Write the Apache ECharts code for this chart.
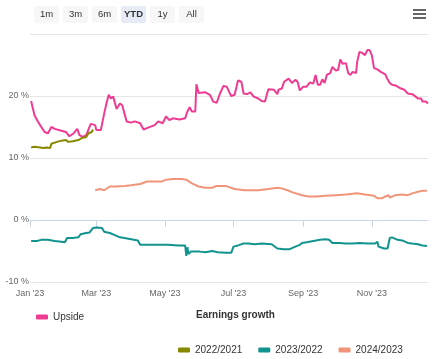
<!DOCTYPE html>
<html>
<head>
<meta charset="utf-8">
<script src="https://cdn.jsdelivr.net/npm/echarts@6/dist/echarts.min.js"></script>
<style>
html,body{margin:0;padding:0;background:#fff;}
#chart{width:436px;height:359px;}
</style>
</head>
<body>
<div id="chart"></div>
<script>
// ---- data ----
const upsideDates = ['2023-01-02','2023-01-05','2023-01-08','2023-01-10','2023-01-14','2023-01-17','2023-01-20','2023-01-23','2023-01-29','2023-02-02','2023-02-05','2023-02-09','2023-02-12','2023-02-14','2023-02-17','2023-02-20','2023-02-24','2023-02-28','2023-03-01','2023-03-05','2023-03-08','2023-03-10','2023-03-12','2023-03-14','2023-03-16','2023-03-19','2023-03-22','2023-03-24','2023-03-26','2023-03-28','2023-04-01','2023-04-04','2023-04-09','2023-04-12','2023-04-16','2023-04-22','2023-04-25','2023-04-29','2023-05-02','2023-05-05','2023-05-08','2023-05-14','2023-05-19','2023-05-21','2023-05-23','2023-05-25','2023-05-28','2023-05-29','2023-05-31','2023-06-06','2023-06-10','2023-06-13','2023-06-16','2023-06-19','2023-06-22','2023-06-25','2023-06-27','2023-06-29','2023-07-02','2023-07-05','2023-07-08','2023-07-10','2023-07-13','2023-07-16','2023-07-19','2023-07-23','2023-07-26','2023-07-29','2023-08-01','2023-08-06','2023-08-09','2023-08-10','2023-08-13','2023-08-15','2023-08-19','2023-08-22','2023-08-25','2023-08-27','2023-08-29','2023-09-01','2023-09-04','2023-09-07','2023-09-10','2023-09-12','2023-09-14','2023-09-16','2023-09-18','2023-09-20','2023-09-22','2023-09-25','2023-09-27','2023-09-28','2023-09-30','2023-10-02','2023-10-04','2023-10-06','2023-10-09','2023-10-11','2023-10-13','2023-10-15','2023-10-18','2023-10-19','2023-10-21','2023-10-23','2023-10-26','2023-10-28','2023-10-30','2023-11-01','2023-11-03','2023-11-06','2023-11-09','2023-11-11','2023-11-13','2023-11-15','2023-11-17','2023-11-19','2023-11-22','2023-11-27','2023-11-30','2023-12-03','2023-12-07','2023-12-10','2023-12-12','2023-12-15','2023-12-16','2023-12-19','2023-12-21'];
const upsideValues = [19.2,16.9,15.9,15.3,14.2,14.0,15.0,14.7,14.4,14.2,13.5,14.0,14.7,13.7,13.4,13.7,15.5,15.3,14.5,14.5,17.2,18.8,20.2,19.6,19.9,17.9,18.8,18.5,17.2,15.9,15.7,15.9,15.6,14.6,14.9,15.3,15.9,15.6,16.7,16.1,16.4,16.2,16.4,17.5,18.2,17.5,17.5,21.9,20.5,20.6,20.2,19.1,18.9,20.4,21.6,21.5,20.7,20.0,20.2,22.5,22.3,20.4,20.3,20.6,19.9,19.6,19.2,19.1,21.1,21.0,20.3,21.0,21.2,22.3,22.8,22.1,22.6,22.3,20.9,21.5,21.5,22.2,22.0,23.4,21.8,21.8,22.7,22.1,23.4,23.7,24.7,25.0,24.1,24.2,25.9,25.2,25.3,23.7,23.4,23.9,23.7,25.5,27.1,27.0,26.6,27.4,27.4,26.6,24.5,24.3,23.9,23.7,23.5,22.7,22.1,21.8,21.7,21.2,21.0,20.4,20.3,19.9,19.6,19.6,19.1,19.1,18.8];

const g2122Dates = ['2023-01-02','2023-01-05','2023-01-10','2023-01-13','2023-01-16','2023-01-19','2023-01-20','2023-01-25','2023-01-29','2023-02-02','2023-02-04','2023-02-08','2023-02-13','2023-02-16','2023-02-20','2023-02-22','2023-02-25','2023-02-26'];
const g2122Values = [11.7,11.8,11.7,11.6,11.7,11.6,12.3,12.6,12.8,12.9,12.6,12.7,12.9,13.2,13.4,14.0,14.2,14.6];

const g2322Dates = ['2023-01-02','2023-01-07','2023-01-11','2023-01-17','2023-01-23','2023-01-29','2023-02-01','2023-02-03','2023-02-08','2023-02-13','2023-02-15','2023-02-20','2023-02-23','2023-02-26','2023-03-01','2023-03-06','2023-03-08','2023-03-13','2023-03-17','2023-03-22','2023-03-26','2023-04-01','2023-04-07','2023-04-09','2023-04-16','2023-04-25','2023-05-04','2023-05-13','2023-05-19','2023-05-20','2023-05-21','2023-05-22','2023-05-24','2023-06-01','2023-06-06','2023-06-12','2023-06-17','2023-06-24','2023-06-29','2023-07-01','2023-07-05','2023-07-10','2023-07-14','2023-07-20','2023-07-26','2023-08-04','2023-08-09','2023-08-15','2023-08-20','2023-08-25','2023-08-29','2023-08-31','2023-09-04','2023-09-10','2023-09-16','2023-09-21','2023-09-24','2023-09-27','2023-10-03','2023-10-09','2023-10-15','2023-10-21','2023-10-29','2023-11-04','2023-11-06','2023-11-07','2023-11-12','2023-11-15','2023-11-17','2023-11-19','2023-11-24','2023-11-28','2023-12-03','2023-12-07','2023-12-12','2023-12-16','2023-12-20'];
const g2322Values = [-3.4,-3.4,-3.2,-3.2,-3.4,-3.5,-3.6,-2.9,-2.9,-2.8,-2.3,-2.1,-2.0,-1.3,-1.2,-1.3,-1.9,-2.1,-2.4,-2.8,-2.9,-3.1,-3.3,-4.0,-4.0,-4.0,-4.0,-4.1,-4.1,-5.8,-4.4,-5.5,-5.1,-5.1,-5.2,-5.0,-5.2,-5.3,-5.3,-4.3,-4.1,-3.8,-3.8,-3.9,-3.8,-3.9,-4.6,-4.7,-4.7,-4.3,-4.0,-3.7,-3.6,-3.4,-3.2,-3.1,-3.2,-3.7,-3.7,-3.8,-3.8,-3.7,-3.8,-3.8,-3.5,-4.3,-4.6,-4.6,-2.9,-2.8,-3.2,-3.3,-3.7,-3.8,-3.9,-4.1,-4.2];

const g2423Dates = ['2023-02-28','2023-03-04','2023-03-08','2023-03-13','2023-03-19','2023-03-26','2023-04-01','2023-04-09','2023-04-15','2023-04-21','2023-04-28','2023-05-02','2023-05-08','2023-05-16','2023-05-20','2023-05-25','2023-05-31','2023-06-06','2023-06-12','2023-06-16','2023-06-24','2023-07-02','2023-07-11','2023-07-23','2023-08-01','2023-08-09','2023-08-13','2023-08-18','2023-08-22','2023-08-31','2023-09-06','2023-09-13','2023-09-21','2023-09-30','2023-10-09','2023-10-19','2023-10-26','2023-11-03','2023-11-06','2023-11-10','2023-11-13','2023-11-16','2023-11-17','2023-11-22','2023-11-28','2023-12-03','2023-12-07','2023-12-13','2023-12-16','2023-12-20'];
const g2423Values = [4.8,5.0,4.8,5.4,5.4,5.5,5.6,5.8,6.2,6.2,6.2,6.5,6.6,6.6,6.5,5.9,5.4,5.2,5.2,5.5,5.5,5.0,4.8,4.8,5.0,5.2,5.1,4.8,4.5,4.0,3.8,3.8,3.9,4.0,4.1,4.3,4.1,3.9,3.5,3.5,3.8,4.0,3.6,4.0,4.1,4.0,4.3,4.6,4.7,4.7];

const seriesNames = ['Upside','2022/2021','2023/2022','2024/2023'];
const tickDates = ['2023-01-01','2023-03-01','2023-05-01','2023-07-01','2023-09-01','2023-11-01'];
const tickLabels = ["Jan '23","Mar '23","May '23","Jul '23","Sep '23","Nov '23"];
const yTicks = [-10, 0, 10, 20, 30];
const buttonLabels = ['1m','3m','6m','YTD','1y','All'];
const selectedButton = 'YTD';
const legendTitle = 'Earnings growth';

// ---- chart ----
function toTs(s){ const p = s.split('-').map(Number); return Date.UTC(p[0], p[1]-1, p[2]); }
const tickTs = tickDates.map(toTs);
function pairs(d, v){ return d.map((x,i)=>[toTs(x), v[i]]); }

const colors = ['#ef3b91','#878700','#12948e','#f0957a'];
const FONT = 'Liberation Sans, Arial, sans-serif';

const buttons = buttonLabels.map((b,i)=>({
  type:'group', left: 34 + i*29, top: 6,
  children:[
    {type:'rect', shape:{x:0,y:0,width:25,height:17,r:2}, style:{fill: b===selectedButton?'#e6ebf5':'#f7f7f7'}},
    {type:'text', x:12.5, y:8.5, style:{text:b, fill:'#333', font:(b===selectedButton?'bold ':'')+'9.5px '+FONT, align:'center', verticalAlign:'middle'}}
  ]
}));

const menu = {type:'group', left:413, top:9, children:[0,4,8].map(dy=>({
  type:'rect', shape:{x:0,y:dy,width:13,height:2}, style:{fill:'#666'}
}))};

const chart = echarts.init(document.getElementById('chart'), null, {renderer:'canvas'});
chart.setOption({
  animation:false,
  color: colors,
  grid:{left:30, right:8, top:34, bottom:77, containLabel:false},
  xAxis:{
    type:'value',
    min: toTs('2023-01-01'), max: toTs('2023-12-21'),
    axisLine:{show:true, lineStyle:{color:'#ccd6eb', width:1}},
    axisTick:{show:true, length:7, lineStyle:{color:'#ccd6eb'}, customValues: tickTs},
    axisLabel:{customValues: tickTs, color:'#666', fontSize:9, fontFamily:FONT, margin:7, showMinLabel:true, showMaxLabel:true, hideOverlap:false,
      formatter: v => { const i = tickTs.indexOf(v); return i>=0 ? tickLabels[i] : ''; }},
    splitLine:{show:false}
  },
  yAxis:{
    type:'value', min:-10, max:30, interval:10,
    axisLine:{show:false}, axisTick:{show:false},
    axisLabel:{color:'#666', fontSize:9, fontFamily:FONT, margin:1, verticalAlign:'middle', padding:[0,0,9,0],
      formatter: v => yTicks.includes(v) && v < 30 ? v + ' %' : ''},
    splitLine:{show:true, lineStyle:{color:'#e6e6e6', width:1}}
  },
  legend:[
    {data:[seriesNames[0]], left:31, top:307, icon:'roundRect', itemWidth:12, itemHeight:5, itemGap:16,
      textStyle:{color:'#333', fontSize:10, fontFamily:FONT}},
    {data:seriesNames.slice(1), left:173, top:340, icon:'roundRect', itemWidth:12, itemHeight:5, itemGap:16,
      textStyle:{color:'#333', fontSize:10, fontFamily:FONT}}
  ],
  graphic:[
    ...buttons, menu,
    {type:'text', left:196, top:310, style:{text:legendTitle, fill:'#333', font:'bold 10px '+FONT}}
  ],
  series:[
    {name:seriesNames[0], type:'line', data:pairs(upsideDates, upsideValues), showSymbol:false, lineStyle:{width:2}},
    {name:seriesNames[1], type:'line', data:pairs(g2122Dates, g2122Values), showSymbol:false, lineStyle:{width:2}},
    {name:seriesNames[2], type:'line', data:pairs(g2322Dates, g2322Values), showSymbol:false, lineStyle:{width:2}},
    {name:seriesNames[3], type:'line', data:pairs(g2423Dates, g2423Values), showSymbol:false, lineStyle:{width:2}}
  ]
});
</script>
</body>
</html>
